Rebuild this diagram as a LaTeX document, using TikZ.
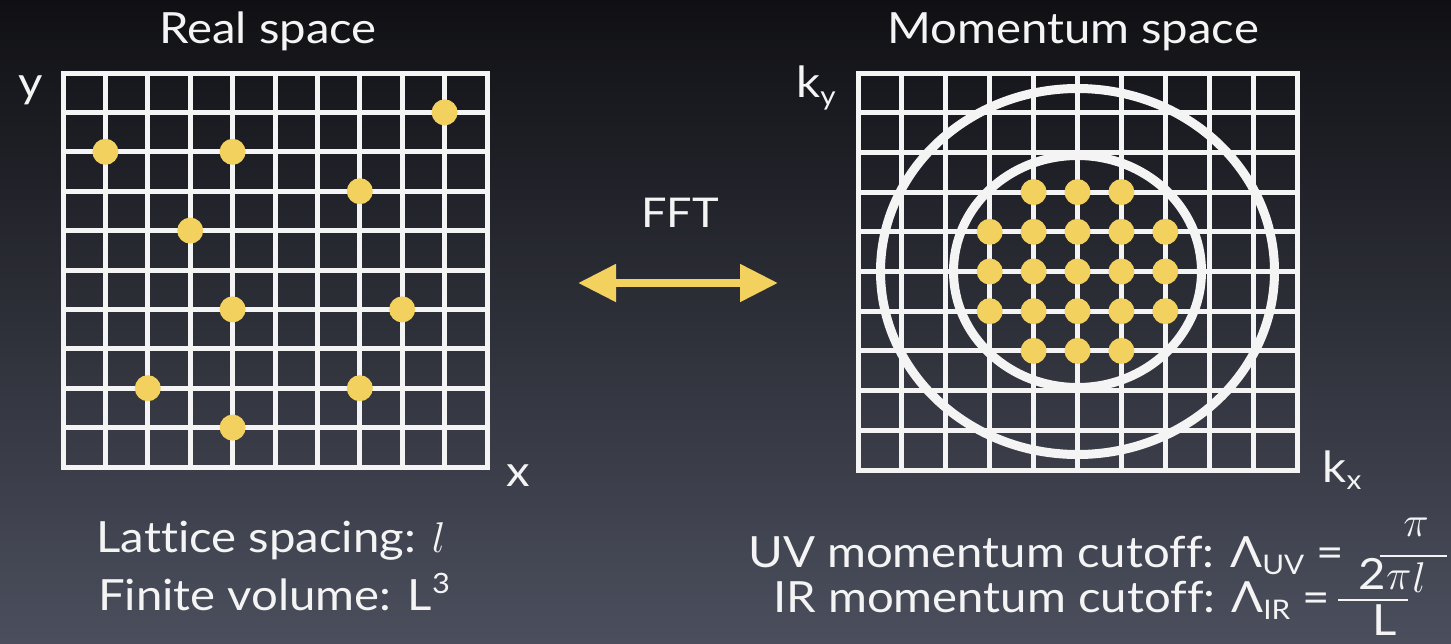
\RequirePackage{fix-cm}
\documentclass[tikz,border=0pt]{standalone}
\usepackage{fontspec}
\setmainfont{Lato}[FakeStretch=1.1, Ligatures=NoCommon]
\usetikzlibrary{arrows.meta}
\definecolor{dotyellow}{HTML}{F3D15F}
\definecolor{gridwhite}{HTML}{F4F4F4}
\definecolor{bgtop}{HTML}{101014}
\definecolor{bgmid}{HTML}{25272F}
\definecolor{bgbottom}{HTML}{4B4F5D}
\tikzset{
  gridline/.style={gridwhite, line width=5pt, line cap=rect},
  cutoff/.style={gridwhite, line width=9pt},
  site/.style={fill=dotyellow},
  plaintext/.style={text=gridwhite, inner sep=0pt, font=\fontsize{43}{50}\selectfont},
  fftarrow/.style={dotyellow, line width=8pt, {Triangle[length=38pt,width=36pt]}-{Triangle[length=38pt,width=36pt]}}
}
\newcommand{\lowsub}[1]{\raisebox{-0.35ex}{\fontsize{27}{29}\selectfont #1}}
\begin{document}
\begin{tikzpicture}[x=1pt,y=-1pt]
  \useasboundingbox (0,0) rectangle (1451,643);
  % Draw background
  \shade[top color=bgtop, middle color=bgmid, bottom color=bgbottom] (0,0) rectangle (1451,643);

  % Draw real space lattice
  \foreach \i in {0,...,10} {
    \draw[gridline] (63+\i*42.4,73) -- (63+\i*42.4,467);
    \draw[gridline] (63,73+\i*39.4) -- (487,73+\i*39.4);
  }
  \foreach \c/\r in {9/1,1/2,4/2,7/3,3/4,4/6,8/6,2/8,7/8,4/9}
    \fill[site] (63+\c*42.4,73+\r*39.4) circle (13pt);

  % Draw momentum space lattice
  \foreach \i in {0,...,10} {
    \draw[gridline] (858+\i*43.9,73) -- (858+\i*43.9,470);
    \draw[gridline] (858,73+\i*39.7) -- (1297,73+\i*39.7);
  }
  \draw[cutoff] (1077.5,271.5) ellipse [x radius=197pt, y radius=183pt];
  \draw[cutoff] (1077.5,271.5) ellipse [x radius=124pt, y radius=116pt];
  \foreach \c/\r in {4/3,5/3,6/3,3/4,4/4,5/4,6/4,7/4,3/5,4/5,5/5,6/5,7/5,3/6,4/6,5/6,6/6,7/6,4/7,5/7,6/7}
    \fill[site] (858+\c*43.9,73+\r*39.7) circle (13pt);

  % Titles and axis labels
  \node[plaintext, anchor=base] (realtitle) at (268,43) {Real space};
  \node[plaintext, anchor=base] (momtitle) at (1073,43) {Momentum space};
  \node[plaintext] (ylabel) at (31,90) {y};
  \node[plaintext] (xlabel) at (518,476) {x};
  \node[plaintext] (kylabel) at (816,88) {k\lowsub{y}};
  \node[plaintext] (kxlabel) at (1342,470) {k\lowsub{x}};

  % FFT arrow
  \node[plaintext, anchor=base, font=\fontsize{41}{48}\selectfont] (fft) at (680,227) {FFT};
  \coordinate (fftleft) at (578,283);
  \coordinate (fftright) at (778,283);
  \draw[fftarrow] (fftleft) -- (fftright);

  % Lattice texts
  \node[plaintext, anchor=base] (spacing) at (271,552) {Lattice spacing: $l$};
  \node[plaintext, anchor=base] (volume) at (274,610) {Finite volume: L\raisebox{0.75ex}{\fontsize{28}{30}\selectfont 3}};

  % Cutoff texts
  \node[plaintext, anchor=base east] (uvtext) at (1344,567) {UV momentum cutoff: Λ\lowsub{UV} =};
  \node[plaintext, anchor=base east] (irtext) at (1330,612) {IR momentum cutoff: Λ\lowsub{IR} =};
  \draw[gridwhite, line width=2.5pt] (1380,556) -- (1447,556);
  \node[plaintext] (uvnum) at (1416,527) {$\pi$};
  \node[plaintext] (uvden) at (1419,578) {$l$};
  \draw[gridwhite, line width=2.5pt] (1338,600) -- (1408,600);
  \node[plaintext] (irnum) at (1385,574) {2$\pi$};
  \node[plaintext] (irden) at (1385,620) {L};
\end{tikzpicture}
\end{document}
